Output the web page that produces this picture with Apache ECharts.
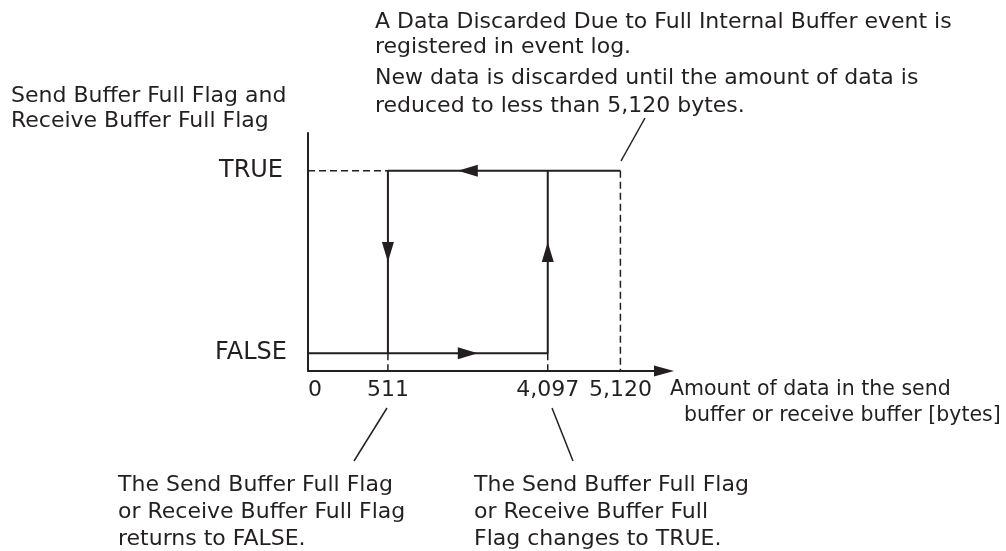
<!DOCTYPE html>
<html>
<head>
<meta charset="utf-8">
<script src="https://cdn.jsdelivr.net/npm/echarts@6/dist/echarts.min.js"></script>
<style>
  html, body { margin: 0; padding: 0; background: #fff; }
  #chart { width: 1006px; height: 551px; }
</style>
</head>
<body>
<div id="chart"></div>
<script>
// x axis is schematic (not to scale): tick positions in diagram units and their labels
var xTickPos = [0, 11, 33, 43];
var xTickLabels = ['0', '511', '4,097', '5,120'];
var xMax = 49;

// y axis levels of the flag
var yLevelPos = [0.9, 10.1];
var yLevelLabels = ['FALSE', 'TRUE'];
var yMax = 12;

// flag while the buffer fills: FALSE up to 4,097, then TRUE
var risingPath = [[0, 0.9], [33, 0.9], [33, 10.1]];
// flag while the buffer drains: TRUE from 5,120 back to 511, then FALSE
var fallingPath = [[43, 10.1], [11, 10.1], [11, 0.9]];

// dashed guide lines
var guideTrue = [[0, 10.1], [11, 10.1]];
var guide511 = [[11, 0.9], [11, 0]];
var guide4097 = [[33, 0.9], [33, 0]];
var guide5120 = [[43, 10.1], [43, 0]];

// direction arrows: x, y, rotation (deg, counterclockwise from "up")
var arrows = [[22, 0.9, -90], [22, 10.1, 90], [11, 6, 180], [33, 6, 0]];

// annotation texts
var yTitle = ['Send Buffer Full Flag and', 'Receive Buffer Full Flag'];
var xTitle = ['Amount of data in the send', 'buffer or receive buffer [bytes]'];
var noteTop1 = ['A Data Discarded Due to Full Internal Buffer event is', 'registered in event log.'];
var noteTop2 = ['New data is discarded until the amount of data is', 'reduced to less than 5,120 bytes.'];
var noteLeft = ['The Send Buffer Full Flag', 'or Receive Buffer Full Flag', 'returns to FALSE.'];
var noteRight = ['The Send Buffer Full Flag', 'or Receive Buffer Full', 'Flag changes to TRUE.'];

var ink = '#231f20';
var font = 'DejaVu Sans';

function solid(data) {
    return {
        type: 'line',
        data: data,
        showSymbol: false,
        silent: true,
        z: 3,
        lineStyle: { color: ink, width: 2 }
    };
}
function dashed(data) {
    return {
        type: 'line',
        data: data,
        showSymbol: false,
        silent: true,
        z: 2,
        lineStyle: { color: ink, width: 1.5, type: [7, 4] }
    };
}
function note(lines, x, y, lh, size) {
    return {
        type: 'text',
        x: x,
        y: y,
        style: {
            text: lines.join('\n'),
            fill: ink,
            fontFamily: font,
            fontSize: size || 22,
            lineHeight: lh,
            verticalAlign: 'top'
        }
    };
}
function leader(x1, y1, x2, y2) {
    return {
        type: 'line',
        shape: { x1: x1, y1: y1, x2: x2, y2: y2 },
        style: { stroke: ink, lineWidth: 1.5 }
    };
}

var option = {
    animation: false,
    backgroundColor: '#fff',
    grid: { left: 308, top: 133, right: 342, bottom: 180 },
    xAxis: {
        type: 'value',
        min: 0,
        max: xMax,
        splitLine: { show: false },
        axisTick: { show: false },
        axisLine: {
            show: true,
            symbol: ['none', 'triangle'],
            symbolSize: [11, 20],
            lineStyle: { color: ink, width: 2 }
        },
        axisLabel: {
            customValues: xTickPos,
            formatter: function (v) { return xTickLabels[xTickPos.indexOf(v)]; },
            color: ink,
            fontFamily: font,
            fontSize: 22,
            margin: 8,
            alignMinLabel: 'left'
        }
    },
    yAxis: {
        type: 'value',
        min: 0,
        max: yMax,
        splitLine: { show: false },
        axisTick: { show: false },
        axisLine: { show: true, lineStyle: { color: ink, width: 2 } },
        axisLabel: {
            customValues: yLevelPos,
            formatter: function (v) { return yLevelLabels[yLevelPos.indexOf(v)]; },
            color: ink,
            fontFamily: font,
            fontSize: 24,
            align: 'center',
            margin: 57
        }
    },
    series: [
        solid(risingPath),
        solid(fallingPath),
        dashed(guideTrue),
        dashed(guide511),
        dashed(guide4097),
        dashed(guide5120),
        {
            type: 'scatter',
            silent: true,
            z: 4,
            symbol: 'triangle',
            symbolSize: [12, 20],
            itemStyle: { color: ink, opacity: 1 },
            data: arrows.map(function (a) {
                return { value: [a[0], a[1]], symbolRotate: a[2] };
            })
        }
    ],
    graphic: [
        note(yTitle, 11, 84, 25),
        note(noteTop1, 375, 9.5, 25.5),
        note(noteTop2, 375, 64, 28),
        note([xTitle[0]], 670, 377, 26, 20.5),
        note([xTitle[1]], 684, 403, 26, 20.5),
        note(noteLeft, 118, 471.5, 27),
        note(noteRight, 474, 471.5, 27),
        leader(645, 118, 621, 161),
        leader(387, 408, 354, 461),
        leader(552, 408, 573, 461)
    ]
};

var chart = echarts.init(document.getElementById('chart'));
chart.setOption(option);

window.addEventListener('resize', function () {
    chart.resize();
});
</script>
</body>
</html>
